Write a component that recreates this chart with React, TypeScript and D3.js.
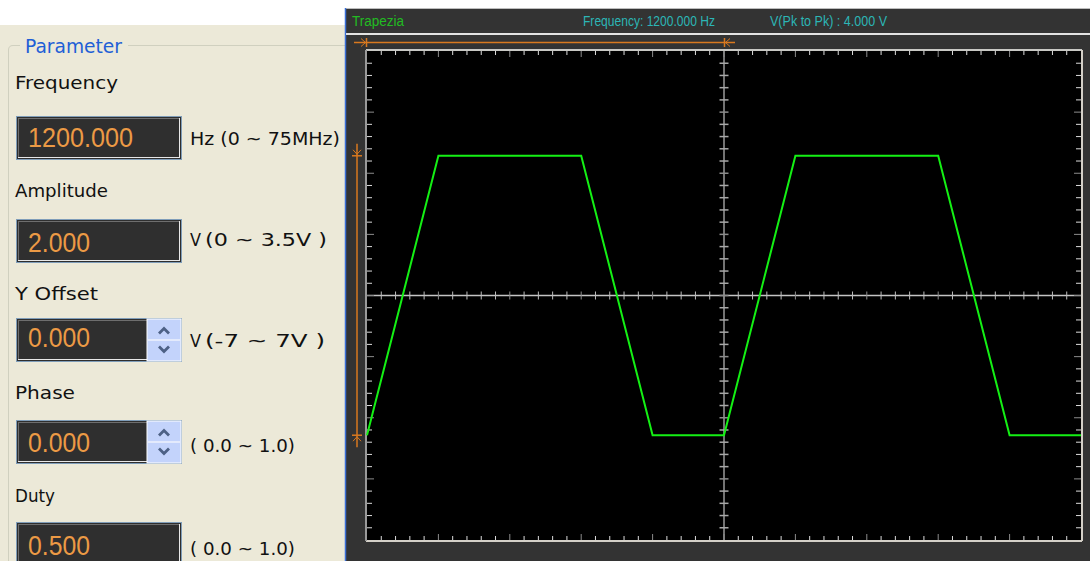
import React from "react";
import * as d3 from "d3";

// ---- data ----
const waveName = "Trapezia";
const frequencyLabel = "Frequency: 1200.000 Hz";
const vppLabel = "V(Pk to Pk) : 4.000 V";
// time in cycles (two periods on screen), voltage in V
const waveT = [0, 0.2, 0.6, 0.8, 1.0, 1.2, 1.6, 1.8, 2.0];
const waveV = [-2, 2, 2, -2, -2, 2, 2, -2, -2];
const timeDomain = [0, 2];
const voltDomain = [-3.5, 3.5];
const markerV = [2, -2];
const markerT = [0, 1];

const paramLabels = ["Frequency", "Amplitude", "Y Offset", "Phase", "Duty"];
const paramValues = ["1200.000", "2.000", "0.000", "0.000", "0.500"];
const paramUnits = ["Hz (0 ~ 75MHz)", "V", "V", "", ""];
const paramRanges = ["", "(0 ~ 3.5V )", "(-7  ~ 7V )", "( 0.0 ~ 1.0)", "( 0.0 ~ 1.0)"];
const paramSpinner = [false, false, true, true, false];

// ---- layout ----
const W = 1090, H = 561;
const PL = 367, PR = 1081, PT = 51, PB = 540;
const minorX = 50, minorY = 40;

const rowLabelY = [89, 197, 300, 399, 502];
const rowLabelW = [103, 93, 83, 60, 40];
const boxTop = [116, 219, 318, 420, 522];
const valueY = [147, 252, 347, 452, 555];
const valueW = [105, 62, 62, 62, 62];
const unitY = [145, 246, 347, 452, 555];
const unitW = [150, 11, 11, 0, 0];
const rangeW = [0, 122, 120, 105, 105];

const T = ({ x, y, s, size, w, fill, family = "DejaVu Sans", anchor = "start" }: any) => (
  <text
    x={x}
    y={y}
    fontSize={size}
    fontFamily={family}
    fill={fill}
    textAnchor={anchor}
    {...(w ? { textLength: w, lengthAdjust: "spacingAndGlyphs" } : {})}
  >
    {s}
  </text>
);

export default function App() {
  const x = d3.scaleLinear().domain(timeDomain).range([PL, PR]);
  const y = d3.scaleLinear().domain(voltDomain).range([PB, PT]);
  const xm = d3.scaleLinear().domain([0, minorX]).range([PL, PR]);
  const ym = d3.scaleLinear().domain([0, minorY]).range([PB, PT]);
  const cx = x((timeDomain[0] + timeDomain[1]) / 2);
  const cy = y(0);

  const line = d3
    .line<number>()
    .x((_, i) => x(waveT[i]))
    .y((d) => y(d));

  const xi = d3.range(1, minorX);
  const yi = d3.range(1, minorY);
  const minorC = "#dcdcdc";
  const majorC = "#8c8c8c";

  const orange = "#d9791f";
  const mvX = 357;
  const mhY = 42;
  const yHi = y(markerV[0]);
  const yLo = y(markerV[1]);
  const t0 = x(markerT[0]);
  const t1 = x(markerT[1]);

  return (
    <svg width={W} height={H} style={{ position: "absolute", left: 0, top: 0 }}>
      <rect x={0} y={0} width={W} height={H} fill="#ffffff" />
      {/* left parameter panel */}
      <rect x={0} y={25} width={345} height={H - 25} fill="#ece9d8" />
      <path
        d={`M20,45.5 H13 Q8.5,45.5 8.5,50 V${H}`}
        fill="none"
        stroke="#d0d0bf"
        strokeWidth={1}
      />
      <line x1={128} y1={45.5} x2={345} y2={45.5} stroke="#d0d0bf" strokeWidth={1} />
      <T x={25} y={53} s="Parameter" size={19} w={97} fill="#1f5fd6" />
      {paramLabels.map((lab, i) => {
        const bt = boxTop[i];
        const bh = 44;
        const bx = 16;
        const bw = 166;
        const spin = paramSpinner[i];
        const innerR = spin ? 147 : bx + bw - 2;
        return (
          <g key={lab}>
            <T x={15} y={rowLabelY[i]} s={lab} size={17.5} w={rowLabelW[i]} fill="#111" />
            <rect x={bx + 0.5} y={bt + 0.5} width={bw - 1} height={bh - 1} fill="#2f2f2f" stroke="#7f9db9" />
            <line x1={bx + 2} y1={bt + 2.5} x2={innerR} y2={bt + 2.5} stroke="#6e6e6e" />
            <line x1={bx + 2.5} y1={bt + 2} x2={bx + 2.5} y2={bt + bh - 2} stroke="#6e6e6e" />
            <line x1={bx + 2} y1={bt + bh - 2.5} x2={innerR} y2={bt + bh - 2.5} stroke="#e8e8e8" />
            {!spin && (
              <line x1={innerR - 0.5} y1={bt + 2} x2={innerR - 0.5} y2={bt + bh - 2} stroke="#e8e8e8" />
            )}
            {spin && (
              <g>
                <rect x={147} y={bt + 1} width={34} height={bh - 2} fill="#c3d3fb" stroke="#ffffff" />
                <line x1={148} y1={bt + bh / 2} x2={180} y2={bt + bh / 2} stroke="#eef2fd" strokeWidth={1.5} />
                <path
                  d={`M159,${bt + 15.5} L164,${bt + 10.5} L169,${bt + 15.5}`}
                  fill="none"
                  stroke="#4d6185"
                  strokeWidth={2.8}
                />
                <path
                  d={`M159,${bt + 28.5} L164,${bt + 33.5} L169,${bt + 28.5}`}
                  fill="none"
                  stroke="#4d6185"
                  strokeWidth={2.8}
                />
              </g>
            )}
            <T
              x={28}
              y={valueY[i]}
              s={paramValues[i]}
              size={28}
              w={valueW[i]}
              fill="#ec9a45"
              family="Liberation Sans"
            />
            {paramUnits[i] && (
              <T x={190} y={unitY[i]} s={paramUnits[i]} size={17} w={unitW[i]} fill="#111" />
            )}
            {paramRanges[i] && (
              <T
                x={paramUnits[i] ? 205 : 190}
                y={unitY[i]}
                s={paramRanges[i]}
                size={17}
                w={rangeW[i]}
                fill="#111"
              />
            )}
          </g>
        );
      })}

      {/* scope panel */}
      <rect x={345} y={8} width={W - 345} height={H - 8} fill="#333333" />
      <line x1={345} y1={8.5} x2={W} y2={8.5} stroke="#bdbdbd" />
      <line x1={345.5} y1={8} x2={345.5} y2={H} stroke="#3a6fd8" strokeWidth={1.5} />
      <line x1={346} y1={34} x2={W} y2={34} stroke="#e2e2e2" strokeWidth={2} />
      <T x={352} y={26} s={waveName} size={14} w={52} fill="#22bb22" family="Liberation Sans" />
      <T x={583} y={26} s={frequencyLabel} size={14} w={132} fill="#2cb6b6" family="Liberation Sans" />
      <T x={770} y={26} s={vppLabel} size={14} w={117} fill="#2cb6b6" family="Liberation Sans" />

      {/* plot area */}
      <rect x={PL} y={PT} width={PR - PL} height={PB - PT} fill="#000000" />
      {/* center lines */}
      <line x1={PL} y1={cy} x2={PR} y2={cy} stroke="#c4c4c4" strokeWidth={1.5} />
      <line x1={cx} y1={PT} x2={cx} y2={PB} stroke="#9a9a9a" strokeWidth={1.5} />
      {/* ticks */}
      {xi.map((i) => {
        const px = xm(i);
        const maj = i % 5 === 0;
        const len = maj ? 6 : 4;
        const c = maj ? majorC : minorC;
        return (
          <g key={"x" + i}>
            <line x1={px} y1={PT} x2={px} y2={PT + len} stroke={c} />
            <line x1={px} y1={PB} x2={px} y2={PB - len} stroke={c} />
            <line x1={px} y1={cy - 4} x2={px} y2={cy + 4} stroke={maj ? majorC : "#bdbdbd"} />
          </g>
        );
      })}
      {yi.map((i) => {
        const py = ym(i);
        const maj = i % 5 === 0;
        const len = maj ? 7 : 5;
        const c = maj ? majorC : minorC;
        return (
          <g key={"y" + i}>
            <line x1={PL} y1={py} x2={PL + len} y2={py} stroke={c} />
            <line x1={PR} y1={py} x2={PR - len} y2={py} stroke={c} />
            <line x1={cx - 4.5} y1={py} x2={cx + 4.5} y2={py} stroke={maj ? majorC : "#a8a8a8"} strokeWidth={1.5} />
          </g>
        );
      })}
      {/* border */}
      <line x1={PL - 1} y1={PT - 1} x2={PR + 1} y2={PT - 1} stroke="#c8c8c4" strokeWidth={2} />
      <line x1={PR + 1} y1={PT - 1} x2={PR + 1} y2={PB + 1} stroke="#d4d0c8" strokeWidth={2} />
      <line x1={PL - 1} y1={PB + 1} x2={PR + 1} y2={PB + 1} stroke="#d4d0c8" strokeWidth={2} />
      <line x1={PL - 1} y1={PT - 1} x2={PL - 1} y2={PB + 1} stroke="#9a9a9a" strokeWidth={2} />

      {/* waveform */}
      <path d={line(waveV) || ""} fill="none" stroke="#14f014" strokeWidth={2} strokeLinejoin="miter" />

      {/* orange markers */}
      <line x1={354} y1={mhY + 0.5} x2={735} y2={mhY + 0.5} stroke={orange} strokeWidth={1.5} />
      <line x1={t0 - 0.5} y1={mhY - 4} x2={t0 - 0.5} y2={mhY + 5} stroke={orange} strokeWidth={1.5} />
      <path d={`M${t0 - 6},${mhY - 3.5} L${t0 - 1.5},${mhY + 0.5} L${t0 - 6},${mhY + 4.5}`} fill="none" stroke={orange} />
      <line x1={t1 + 0.5} y1={mhY - 4} x2={t1 + 0.5} y2={mhY + 5} stroke={orange} strokeWidth={1.5} />
      <path d={`M${t1 + 6},${mhY - 3.5} L${t1 + 1.5},${mhY + 0.5} L${t1 + 6},${mhY + 4.5}`} fill="none" stroke={orange} />

      <line x1={mvX} y1={yHi - 12} x2={mvX} y2={yLo + 12} stroke={orange} strokeWidth={1.5} />
      <line x1={mvX - 5} y1={yHi} x2={mvX + 5} y2={yHi} stroke={orange} strokeWidth={1.5} />
      <path d={`M${mvX - 4},${yHi - 6} L${mvX},${yHi - 1.5} L${mvX + 4},${yHi - 6}`} fill="none" stroke={orange} />
      <line x1={mvX - 5} y1={yLo} x2={mvX + 5} y2={yLo} stroke={orange} strokeWidth={1.5} />
      <path d={`M${mvX - 4},${yLo + 6} L${mvX},${yLo + 1.5} L${mvX + 4},${yLo + 6}`} fill="none" stroke={orange} />
    </svg>
  );
}
